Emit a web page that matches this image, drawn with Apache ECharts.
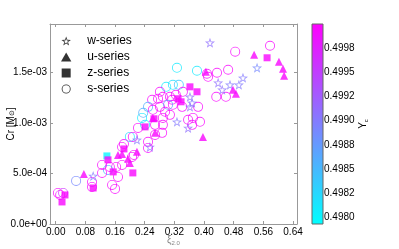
<!DOCTYPE html>
<html><head><meta charset="utf-8">
<script src="https://cdn.jsdelivr.net/npm/echarts@6/dist/echarts.min.js"></script>
<style>html,body{margin:0;padding:0;background:#fff}#c{width:399px;height:249px}</style>
</head><body><div id="c"></div>
<script>
// ---- data ----
const xTickValues = [0, 0.08, 0.16, 0.24, 0.32, 0.40, 0.48, 0.56, 0.64];
const yTickValues = [0, 5e-4, 1e-3, 1.5e-3];
const yTickLabels = ['0.0e+00', '5.0e-04', '1.0e-03', '1.5e-03'];
const cbTickValues = [0.498, 0.49825, 0.4985, 0.49875, 0.499, 0.49925, 0.4995, 0.49975];
const cbTickLabels = ['0.4980', '0.4982', '0.4985', '0.4988', '0.4990', '0.4992', '0.4995', '0.4998'];
const seriesNames = ['w-series', 'u-series', 'z-series', 's-series'];

// [xi_2.0, Cr, Yc]
const wSeries = [
  [0.416,1.792e-3,0.4991],[0.543,1.544e-3,0.4989],[0.505,1.445e-3,0.4990],[0.438,1.396e-3,0.4991],
  [0.470,1.376e-3,0.4990],[0.494,1.376e-3,0.4990],[0.449,1.327e-3,0.4991],[0.362,1.257e-3,0.4991],
  [0.368,1.198e-3,0.4990],[0.362,1.158e-3,0.4991],[0.327,1.010e-3,0.4990],[0.357,9.50e-4,0.4991],
  [0.219,8.32e-4,0.4990],[0.254,7.62e-4,0.4991],[0.101,4.75e-4,0.4990]
];
const uSeries = [
  [0.535,1.673e-3,0.49995],[0.602,1.604e-3,0.49995],[0.613,1.535e-3,0.49995],[0.616,1.465e-3,0.49995],
  [0.405,1.505e-3,0.49995],[0.478,1.327e-3,0.49995],[0.486,1.287e-3,0.49995],[0.397,8.61e-4,0.49995],
  [0.268,9.01e-4,0.49995],[0.262,1.049e-3,0.49995],[0.219,7.13e-4,0.49995],[0.200,6.04e-4,0.49995],
  [0.195,6.44e-4,0.49995],[0.168,6.83e-4,0.49995],[0.179,6.93e-4,0.49995],[0.076,4.95e-4,0.49995]
];
const zSeries = [
  [0.570,1.643e-3,0.49995],[0.362,1.356e-3,0.49995],[0.381,1.307e-3,0.49995],[0.330,1.238e-3,0.49995],
  [0.338,1.208e-3,0.49995],[0.265,1.040e-3,0.49995],[0.241,9.60e-4,0.49995],[0.138,6.73e-4,0.4980],
  [0.141,6.34e-4,0.49995],[0.184,7.42e-4,0.49995],[0.155,5.15e-4,0.49995],[0.208,5.05e-4,0.49995],
  [0.101,3.56e-4,0.49995],[0.025,2.87e-4,0.49995],[0.017,2.18e-4,0.49995]
];
const sSeries = [
  [0.578,1.762e-3,0.49995],[0.484,1.703e-3,0.49995],[0.465,1.525e-3,0.49995],[0.435,1.495e-3,0.49995],
  [0.411,1.455e-3,0.49995],[0.408,1.485e-3,0.49990],[0.433,1.257e-3,0.49995],[0.459,1.257e-3,0.49995],
  [0.327,1.544e-3,0.4981],[0.381,1.515e-3,0.4981],[0.298,1.356e-3,0.4981],[0.316,1.376e-3,0.4982],
  [0.332,1.376e-3,0.4984],[0.343,1.307e-3,0.49995],[0.324,1.277e-3,0.49995],[0.308,1.257e-3,0.49990],
  [0.281,1.307e-3,0.49995],[0.289,1.257e-3,0.49995],[0.314,1.228e-3,0.49995],[0.316,1.178e-3,0.49995],
  [0.341,1.158e-3,0.49995],[0.384,1.158e-3,0.49995],[0.260,1.228e-3,0.49995],[0.281,1.158e-3,0.49995],
  [0.249,1.158e-3,0.4986],[0.303,1.178e-3,0.4987],[0.262,1.129e-3,0.49995],[0.295,1.109e-3,0.49995],
  [0.308,1.079e-3,0.49995],[0.289,1.049e-3,0.49995],[0.268,9.80e-4,0.49995],[0.289,9.80e-4,0.49995],
  [0.357,1.030e-3,0.49995],[0.370,1.049e-3,0.49995],[0.389,1.010e-3,0.49995],[0.368,9.80e-4,0.49995],
  [0.287,9.01e-4,0.49995],[0.233,1.049e-3,0.4981],[0.241,9.80e-4,0.4982],[0.222,9.50e-4,0.49995],
  [0.249,8.12e-4,0.49995],[0.200,8.61e-4,0.4982],[0.208,8.61e-4,0.49995],[0.249,7.52e-4,0.49995],
  [0.211,6.83e-4,0.49995],[0.179,7.62e-4,0.49995],[0.184,7.90e-4,0.49995],[0.206,6.63e-4,0.49995],
  [0.179,5.84e-4,0.49995],[0.163,5.64e-4,0.49995],[0.146,5.64e-4,0.49995],[0.141,5.35e-4,0.4985],
  [0.125,5.84e-4,0.49995],[0.125,5.05e-4,0.49995],[0.168,4.65e-4,0.49995],[0.152,3.86e-4,0.49995],
  [0.160,3.47e-4,0.49995],[0.098,4.16e-4,0.49995],[0.098,3.66e-4,0.49995],[0.055,4.26e-4,0.4989],
  [0.006,3.07e-4,0.49995],[0.012,2.87e-4,0.49995],[0.020,3.07e-4,0.4996],[0.276,1.238e-3,0.49995],
  [0.268,8.81e-4,0.49995],[0.236,1.099e-3,0.4986]
];

// ---- styling ----
const FONT = 'Liberation Sans, Arial, Helvetica, sans-serif';
const STAR = 'path://M0,-10L2.351,-3.236L9.511,-3.090L3.804,1.236L5.878,8.090L0,4L-5.878,8.090L-3.804,1.236L-9.511,-3.090L-2.351,-3.236Z' +
  'M0,-5.5L-1.293,-1.780L-5.231,-1.700L-2.092,0.680L-3.233,4.450L0,2.2L3.233,4.450L2.092,0.680L5.231,-1.700L1.293,-1.780Z';
const RING = 'path://M-10,0A10,10 0 1,1 10,0A10,10 0 1,1 -10,0Z' +
  'M-8.2,0A8.2,8.2 0 1,0 8.2,0A8.2,8.2 0 1,0 -8.2,0Z';
const TRI = 'path://M5,0L10,8.7L0,8.7Z';
const SQR = 'path://M0,0L10,0L10,10L0,10Z';
const xMin = -0.0154, xMax = 0.6507, yMin = 0, yMax = 1.977e-3;
const cbMin = 0.49793, cbMax = 0.5;
const frameColor = '#999';

function pick(vals, labels, v, tol) {
  const i = vals.findIndex(t => Math.abs(t - v) < tol);
  return i < 0 ? '' : labels[i];
}

const frameAxis = {
  axisLine: { show: true, onZero: false, lineStyle: { color: frameColor, width: 1 } },
  splitLine: { show: false }
};

const chart = echarts.init(document.getElementById('c'), null, { renderer: 'canvas' });
chart.setOption({
  animation: false,
  backgroundColor: '#fff',
  textStyle: { fontFamily: FONT },
  grid: [
    { left: 50, top: 24, width: 247, height: 200, containLabel: false, outerBoundsMode: 'none' },
    { left: 312, top: 24, width: 11, height: 200, containLabel: false, outerBoundsMode: 'none' }
  ],
  xAxis: [
    Object.assign({}, frameAxis, {
      gridIndex: 0, type: 'value', position: 'bottom', min: xMin, max: xMax,
      axisTick: { show: true, inside: true, length: 3, customValues: xTickValues, lineStyle: { color: frameColor } },
      axisLabel: { customValues: xTickValues, formatter: v => v.toFixed(2), color: '#000', fontSize: 10, margin: 3, fontFamily: FONT },
      name: '{a|ξ}{b|2.0}', nameLocation: 'middle', nameGap: 10, nameMoveOverlap: false,
      nameTextStyle: { rich: {
        a: { fontSize: 10, color: '#888', fontFamily: FONT, lineHeight: 12 },
        b: { fontSize: 6, color: '#888', fontFamily: FONT, verticalAlign: 'bottom', lineHeight: 8 }
      } }
    }),
    Object.assign({}, frameAxis, {
      gridIndex: 0, type: 'value', position: 'top', min: xMin, max: xMax,
      axisTick: { show: true, inside: true, length: 3, customValues: xTickValues, lineStyle: { color: frameColor } },
      axisLabel: { show: false }
    }),
    { gridIndex: 1, type: 'value', min: 0, max: 1, show: false }
  ],
  yAxis: [
    Object.assign({}, frameAxis, {
      gridIndex: 0, type: 'value', position: 'left', min: yMin, max: yMax,
      axisTick: { show: true, inside: true, length: 3, customValues: yTickValues, lineStyle: { color: frameColor } },
      axisLabel: { customValues: yTickValues, formatter: v => pick(yTickValues, yTickLabels, v, 1e-9), color: '#000', fontSize: 10, margin: 3, fontFamily: FONT },
      name: 'Cr [M{s|⊙}]', nameLocation: 'middle', nameGap: 34, nameRotate: 90, nameMoveOverlap: false,
      nameTextStyle: { fontSize: 10, color: '#000', fontFamily: FONT, rich: { s: { fontSize: 7, fontFamily: 'DejaVu Sans', color: '#000', verticalAlign: 'bottom', lineHeight: 8 } } }
    }),
    Object.assign({}, frameAxis, {
      gridIndex: 0, type: 'value', position: 'right', min: yMin, max: yMax,
      axisTick: { show: true, inside: true, length: 3, customValues: yTickValues, lineStyle: { color: frameColor } },
      axisLabel: { show: false }
    }),
    {
      gridIndex: 1, type: 'value', position: 'right', min: cbMin, max: cbMax,
      axisLine: { show: false, onZero: false }, splitLine: { show: false },
      axisTick: { show: true, inside: true, length: 2, customValues: cbTickValues, lineStyle: { color: '#555' } },
      axisLabel: { customValues: cbTickValues, formatter: v => pick(cbTickValues, cbTickLabels, v, 1e-7), color: '#000', fontSize: 10, margin: 1, fontFamily: FONT },
      name: '{a|Y}{b|c}', nameLocation: 'middle', nameGap: 30, nameRotate: 90,
      nameTextStyle: { rich: {
        a: { fontSize: 10, color: '#000', fontFamily: FONT, lineHeight: 12 },
        b: { fontSize: 6, color: '#000', fontFamily: FONT, verticalAlign: 'bottom', lineHeight: 8 }
      } }
    }
  ],
  visualMap: {
    type: 'continuous', show: false, dimension: 2, min: cbMin, max: cbMax,
    seriesIndex: [0, 1, 2, 3],
    inRange: { color: ['#00ffff', '#ff00ff'] }
  },
  legend: {
    orient: 'vertical', left: 56, top: 30, itemWidth: 32, itemHeight: 9, itemGap: 4,
    selectedMode: false,
    textStyle: { fontSize: 12, color: '#000', fontFamily: FONT },
    data: [
      { name: seriesNames[0], icon: STAR, itemStyle: { color: '#000', borderWidth: 0 } },
      { name: seriesNames[1], icon: TRI, itemStyle: { color: '#000', borderWidth: 0 } },
      { name: seriesNames[2], icon: SQR, itemStyle: { color: '#000', borderWidth: 0 } },
      { name: seriesNames[3], icon: RING, itemStyle: { color: '#000', borderWidth: 0 } }
    ]
  },
  series: [
    { type: 'scatter', name: seriesNames[3], data: sSeries, symbol: RING, symbolSize: 10, xAxisIndex: 0, yAxisIndex: 0 },
    { type: 'scatter', name: seriesNames[0], data: wSeries, symbol: STAR, symbolSize: 10, xAxisIndex: 0, yAxisIndex: 0 },
    { type: 'scatter', name: seriesNames[2], data: zSeries, symbol: 'rect', symbolSize: 7, xAxisIndex: 0, yAxisIndex: 0 },
    { type: 'scatter', name: seriesNames[1], data: uSeries, symbol: 'triangle', symbolSize: 8, xAxisIndex: 0, yAxisIndex: 0 },
    {
      type: 'custom', name: 'colorbar', xAxisIndex: 2, yAxisIndex: 2, silent: true,
      data: [[0, cbMin, cbMax]],
      renderItem: function (params, api) {
        const p0 = api.coord([0, cbMax]);
        const p1 = api.coord([1, cbMin]);
        return {
          type: 'rect',
          shape: { x: p0[0], y: p0[1], width: p1[0] - p0[0], height: p1[1] - p0[1] },
          style: {
            fill: new echarts.graphic.LinearGradient(0, 1, 0, 0, [
              { offset: 0, color: '#00ffff' }, { offset: 1, color: '#ff00ff' }
            ]),
            stroke: '#666', lineWidth: 1
          }
        };
      }
    }
  ]
});
</script>
</body></html>
